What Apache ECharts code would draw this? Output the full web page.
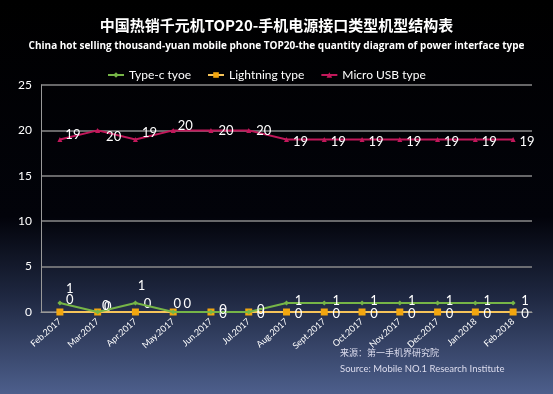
<!DOCTYPE html>
<html><head><meta charset="utf-8">
<script src="https://cdn.jsdelivr.net/npm/echarts@6/dist/echarts.min.js"></script>
<style>html,body{margin:0;padding:0;background:#000}#c{width:553px;height:394px}</style>
</head><body><div id="c"></div>
<script>
var categories = ['Feb.2017','Mar.2017','Apr.2017','May.2017','Jun.2017','Jul.2017','Aug.2017','Sept.2017','Oct.2017','Nov.2017','Dec.2017','Jan.2018','Feb.2018'];
var typeC = [1,0,1,0,0,0,1,1,1,1,1,1,1];
var lightning = [0,0,0,0,0,0,0,0,0,0,0,0,0];
var microUSB = [19,20,19,20,20,20,19,19,19,19,19,19,19];
var yTicks = [0,5,10,15,20,25];

// label offsets (style only)
var offC = [[10,-14],[8,-6],[6,-17],[4,-8],[12,-2],[12,-2],[12,-2],[12,-2],[12,-2],[12,-2],[12,-2],[12,-2],[12,-2]];
var offL = [[10,-12],[10,-5],[12,-8],[14,-8],[12,2],[12,2],[12,2],[12,2],[12,2],[12,2],[12,2],[12,2],[12,2]];
var offM = [[13,-5],[16,6],[14,-7],[12,-5],[15,0],[15,0],[14,2],[14,2],[14,2],[14,2],[14,2],[14,2],[14,2]];

function withLabels(arr, offs){
  return arr.map(function(v,i){
    return {value:v, label:{offset:offs[i]}};
  });
}
var labelBase = {show:true, position:'inside', color:'#fff', fontSize:13, fontFamily:'Lato, sans-serif'};

var chart = echarts.init(document.getElementById('c'));
chart.setOption({
  backgroundColor: new echarts.graphic.LinearGradient(0,0,0,1,[
    {offset:0,color:'#000000'},{offset:0.55,color:'#02030a'},{offset:0.75,color:'#1e2740'},{offset:1,color:'#4d5f8c'}]),
  animation:false,
  title:[{
    text:'中国热销千元机TOP20-手机电源接口类型机型结构表',
    left:'center', top:13,
    textStyle:{color:'#fff',fontSize:15,fontWeight:'bold',fontFamily:'"Noto Sans CJK SC", sans-serif'}
  },{
    text:'China hot selling thousand-yuan mobile phone TOP20-the quantity diagram of power interface type',
    left:'center', top:36,
    textStyle:{color:'#fff',fontSize:10,fontWeight:'bold',fontFamily:'"Open Sans", sans-serif'}
  },{
    text:'来源：第一手机界研究院',
    left:335, top:343,
    textStyle:{color:'#dde',fontSize:9,fontWeight:'normal',fontFamily:'"Noto Sans CJK SC", sans-serif'}
  },{
    text:'Source: Mobile NO.1 Research Institute',
    left:335, top:359,
    textStyle:{color:'#dde',fontSize:9.5,fontWeight:'normal',fontFamily:'Lato, sans-serif'}
  }],
  legend:{
    top:64, left:102, itemWidth:16, itemHeight:7, itemGap:16,
    textStyle:{color:'#fff',fontSize:12,fontFamily:'Lato, sans-serif'},
    data:['Type-c tyoe','Lightning type','Micro USB type']
  },
  grid:{left:41, right:21, top:85, bottom:82},
  xAxis:{
    type:'category', data:categories, boundaryGap:true,
    axisLine:{show:true,lineStyle:{color:'#999'}}, axisTick:{show:false},
    axisLabel:{color:'#fff',fontSize:9,rotate:42,margin:8,interval:0,fontFamily:'Lato, sans-serif'}
  },
  yAxis:{
    type:'value', min:yTicks[0], max:yTicks[yTicks.length-1], interval:5,
    axisLine:{show:true,lineStyle:{color:'#999'}}, axisTick:{show:false},
    splitLine:{lineStyle:{color:'#8a8a8a',width:1.5}},
    axisLabel:{color:'#fff',fontSize:12,margin:9,fontFamily:'Lato, sans-serif'}
  },
  series:[{
    name:'Type-c tyoe', type:'line', data:withLabels(typeC,offC),
    color:'#76b547', lineStyle:{width:2}, symbol:'diamond', symbolSize:5,
    label:labelBase, z:3
  },{
    name:'Lightning type', type:'line', data:withLabels(lightning,offL),
    color:'#f2a60f', lineStyle:{width:2,color:'#f6c45a'}, symbol:'rect', symbolSize:7,
    label:labelBase, z:2
  },{
    name:'Micro USB type', type:'line', data:withLabels(microUSB,offM),
    color:'#c2185b', lineStyle:{width:2}, symbol:'triangle', symbolSize:5,
    label:labelBase, z:4
  }]
});
</script></body></html>
